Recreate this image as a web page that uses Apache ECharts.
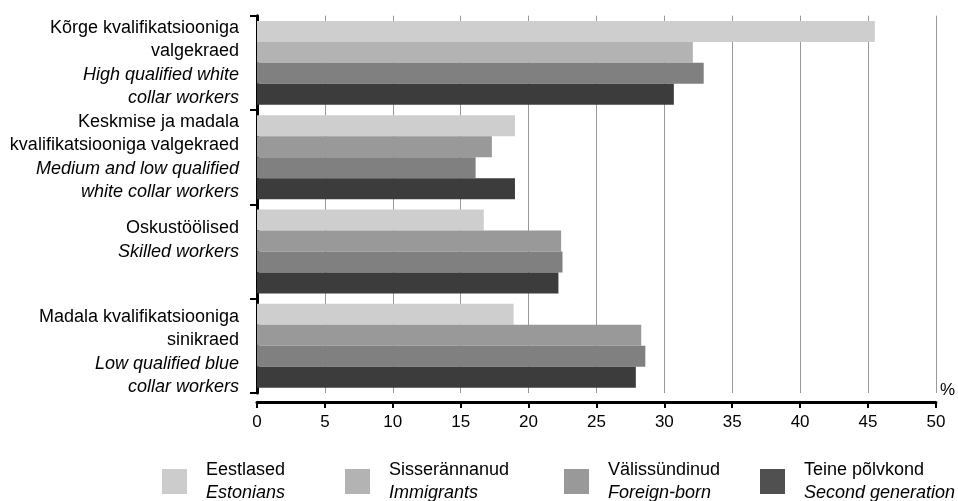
<!DOCTYPE html>
<html>
<head>
<meta charset="utf-8">
<script src="https://cdn.jsdelivr.net/npm/echarts@6/dist/echarts.min.js"></script>
<style>html,body{margin:0;padding:0;background:#fff}#c{width:958px;height:501px}</style>
</head>
<body>
<div id="c"></div>
<script>
// ---- data ----
const categories = ['Kõrge', 'Keskmise', 'Oskus', 'Madala'];
const catLinesEt = [['Kõrge kvalifikatsiooniga', 'valgekraed'], ['Keskmise ja madala', 'kvalifikatsiooniga valgekraed'], ['Oskustöölised'], ['Madala kvalifikatsiooniga', 'sinikraed']];
const catLinesEn = [['High qualified white', 'collar workers'], ['Medium and low qualified', 'white collar workers'], ['Skilled workers'], ['Low qualified blue', 'collar workers']];
const seriesNames = ['Eestlased', 'Sisserännanud', 'Välissündinud', 'Teine põlvkond'];
const seriesNamesEn = ['Estonians', 'Immigrants', 'Foreign-born', 'Second generation'];
const estonians = [45.5, 19.0, 16.7, 18.9];
const immigrants = [32.1, 17.3, 22.4, 28.3];
const foreignBorn = [32.9, 16.1, 22.5, 28.6];
const secondGen = [30.7, 19.0, 22.2, 27.9];
const xTicks = [0, 5, 10, 15, 20, 25, 30, 35, 40, 45, 50];

// ---- styles ----
const FONT = '"Liberation Sans", Arial, Helvetica, sans-serif';
const barColors = ['#cecece', '#999999', '#808080', '#3c3c3c'];
const firstGroupImmigrantColor = '#b3b3b3';
const legendColors = ['#cccccc', '#b3b3b3', '#999999', '#505050'];
const legendLeft = [162, 345, 564, 760];
const allValues = [estonians, immigrants, foreignBorn, secondGen];

function catLabel(v) {
  const i = categories.indexOf(v);
  const parts = [];
  if (i === 3) parts.push('{s| }');
  catLinesEt[i].forEach(t => parts.push('{n|' + t + '}'));
  catLinesEn[i].forEach(t => parts.push('{i|' + t + '}'));
  if (i === 2) parts.push('{n| }');
  return parts.join('\n');
}

const series = seriesNames.map((name, k) => ({
  name: name,
  type: 'bar',
  barGap: '0%',
  barCategoryGap: '11%',
  itemStyle: { color: barColors[k] },
  data: allValues[k].map((v, j) => (k === 1 && j === 0) ? { value: v, itemStyle: { color: firstGroupImmigrantColor } } : v)
}));

const legends = seriesNames.map((name, k) => ({
  data: [{ name: name, itemStyle: { color: legendColors[k] } }],
  left: legendLeft[k],
  top: 461,
  padding: 0,
  itemWidth: 25,
  itemHeight: 25,
  icon: 'rect',
  selectedMode: false,
  formatter: n => '{a|' + n + '}\n{b|' + seriesNamesEn[seriesNames.indexOf(n)] + '}',
  textStyle: {
    padding: [0, 0, 0, 14],
    rich: {
      a: { fontFamily: FONT, fontSize: 18, color: '#000', lineHeight: 23 },
      b: { fontFamily: FONT, fontSize: 18, color: '#000', fontStyle: 'italic', lineHeight: 23 }
    }
  }
}));

const chart = echarts.init(document.getElementById('c'), null, { renderer: 'canvas' });
chart.setOption({
  animation: false,
  backgroundColor: '#fff',
  textStyle: { fontFamily: FONT },
  legend: legends,
  grid: { left: 257, right: 20, top: 15.7, bottom: 108, containLabel: false },
  xAxis: {
    type: 'value',
    min: xTicks[0],
    max: xTicks[xTicks.length - 1],
    interval: 5,
    offset: 9,
    name: '%',
    nameLocation: 'end',
    nameGap: 4,
    nameTextStyle: { fontFamily: FONT, fontSize: 17, color: '#000', align: 'left', verticalAlign: 'bottom', padding: [0, 0, 3, 0] },
    axisLine: { show: true, lineStyle: { color: '#000', width: 3 } },
    axisTick: { show: true, length: 6, lineStyle: { color: '#000', width: 2 } },
    axisLabel: { fontFamily: FONT, fontSize: 17, color: '#000', margin: 12 },
    splitLine: { show: true, lineStyle: { color: '#999', width: 1 } }
  },
  yAxis: {
    type: 'category',
    data: categories,
    inverse: true,
    offset: 5,
    axisLine: { show: true, lineStyle: { color: '#000', width: 3 } },
    axisTick: { show: true, length: 7, lineStyle: { color: '#000', width: 2 } },
    axisLabel: {
      margin: 13,
      formatter: catLabel,
      rich: {
        n: { fontFamily: FONT, fontSize: 18, color: '#000', lineHeight: 23.5, align: 'right' },
        i: { fontFamily: FONT, fontSize: 18, color: '#000', fontStyle: 'italic', lineHeight: 23.5, align: 'right' },
        s: { fontSize: 6, lineHeight: 12 }
      }
    },
    splitLine: { show: false }
  },
  series: series
});
</script>
</body>
</html>
